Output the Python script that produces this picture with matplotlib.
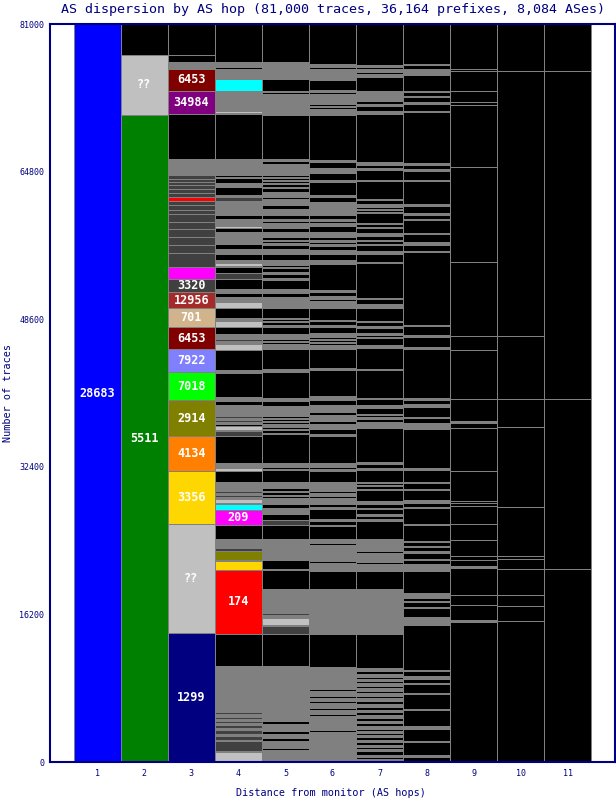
import matplotlib
matplotlib.use("Agg")
import matplotlib.pyplot as plt
import numpy as np

title = "AS dispersion by AS hop (81,000 traces, 36,164 prefixes, 8,084 ASes)"
total_traces = 81000
hops = [1, 2, 3, 4, 5, 6, 7, 8, 9, 10, 11]
yticks = [0, 16200, 32400, 48600, 64800, 81000]
xlabel = "Distance from monitor (AS hops)"
ylabel = "Number of traces"

palette = {
    "k": "#000000", "g": "#808080", "d": "#404040", "s": "#C0C0C0",
    "blue": "#0000FF", "green": "#008000", "navy": "#000080",
    "maroon": "#800000", "purple": "#800080", "red": "#FF0000",
    "magenta": "#FF00FF", "brown": "#A52A2A", "tan": "#D2B48C",
    "peri": "#8080FF", "lime": "#00FF00", "olive": "#808000",
    "orange": "#FF8000", "gold": "#FFD700", "cyan": "#00FFFF",
}

# segments listed from the top of each column downward: (colour key, traces[, AS label])
col1 = [("blue", 81000, "28683")]
col2 = [("k", 3400), ("s", 6590, "??"), ("green", 71010, "5511")]
col3 = [("k", 3400), ("k", 770), ("g", 770), ("maroon", 2410, "6453"), ("purple", 2520, "34984"),
        ("k", 4940), ("g", 1760), ("d", 440), ("d", 330), ("d", 330), ("d", 440), ("d", 440),
        ("d", 440), ("red", 440), ("d", 440), ("d", 550), ("d", 440), ("d", 880), ("d", 770),
        ("d", 880), ("d", 880), ("d", 880), ("d", 1540), ("magenta", 1320),
        ("d", 1430, "3320"), ("brown", 1760, "12956"), ("tan", 2090, "701"),
        ("maroon", 2410, "6453"), ("peri", 2520, "7922"), ("lime", 3070, "7018"),
        ("olive", 3950, "2914"), ("orange", 3840, "4134"), ("gold", 5820, "3356"),
        ("s", 11960, "??"), ("navy", 14160, "1299")]
col4 = [("k", 4170), ("g", 550), ("k", 220), ("g", 770), ("purple", 110), ("g", 220), ("cyan", 1320),
        ("g", 1650), ("d", 110), ("g", 330), ("d", 110), ("s", 220), ("g", 110), ("k", 4940),
        ("g", 1760), ("k", 220), ("g", 110), ("k", 550), ("g", 440), ("k", 880), ("s", 110),
        ("k", 110), ("d", 440), ("g", 660), ("d", 110), ("g", 770), ("k", 440), ("g", 770),
        ("s", 220), ("k", 440), ("g", 550), ("k", 110), ("d", 110), ("k", 110), ("d", 110),
        ("g", 330), ("k", 550), ("g", 550), ("k", 660), ("g", 330), ("s", 330), ("g", 110),
        ("k", 660), ("d", 660), ("k", 1100), ("g", 440), ("k", 440), ("g", 550), ("s", 660),
        ("k", 1100), ("d", 110), ("g", 220), ("s", 660), ("k", 660), ("g", 550), ("d", 220),
        ("g", 330), ("s", 660), ("k", 2300), ("g", 220), ("k", 2740), ("g", 440), ("k", 440),
        ("g", 1100), ("d", 220), ("g", 220), ("d", 220), ("g", 220), ("k", 220), ("s", 440),
        ("k", 110), ("d", 550), ("k", 2960), ("g", 550), ("s", 330), ("k", 1210), ("g", 990),
        ("d", 220), ("g", 220), ("d", 220), ("g", 220), ("s", 440), ("g", 110), ("cyan", 660),
        ("magenta", 1650, "209"), ("k", 1540), ("g", 880), ("orange", 110), ("d", 330),
        ("olive", 990), ("g", 110), ("gold", 990), ("red", 7020, "174"), ("k", 3510),
        ("g", 5050), ("d", 220), ("g", 330), ("d", 220), ("g", 220), ("d", 220), ("g", 220),
        ("d", 330), ("g", 220), ("d", 440), ("g", 220), ("d", 440), ("g", 110), ("d", 1100),
        ("g", 110), ("s", 1210)]
col5 = [("k", 4170), ("g", 440), ("k", 110), ("g", 990), ("d", 110), ("g", 220), ("k", 1320),
        ("g", 110), ("k", 220), ("g", 1650), ("d", 110), ("g", 550), ("k", 4830), ("g", 220),
        ("k", 330), ("g", 220), ("k", 110), ("g", 880), ("k", 220), ("g", 110), ("k", 220),
        ("g", 110), ("k", 220), ("g", 110), ("k", 330), ("g", 110), ("k", 440), ("g", 550),
        ("k", 220), ("g", 220), ("k", 110), ("g", 330), ("k", 440), ("g", 660), ("k", 440),
        ("g", 220), ("k", 220), ("g", 220), ("k", 110), ("g", 220), ("k", 440), ("g", 550),
        ("k", 330), ("g", 110), ("k", 220), ("g", 220), ("k", 440), ("g", 550), ("k", 660),
        ("g", 550), ("k", 220), ("g", 110), ("k", 440), ("g", 220), ("k", 440), ("g", 220),
        ("k", 990), ("g", 440), ("k", 440), ("g", 550), ("k", 110), ("g", 550), ("k", 1100),
        ("g", 110), ("k", 220), ("g", 110), ("k", 330), ("g", 220), ("k", 660), ("g", 550),
        ("k", 220), ("g", 110), ("k", 220), ("g", 550), ("k", 2200), ("g", 330), ("k", 2850),
        ("g", 330), ("k", 550), ("g", 1100), ("k", 220), ("g", 110), ("k", 220), ("g", 110),
        ("k", 220), ("g", 330), ("k", 220), ("g", 110), ("k", 330), ("g", 110), ("k", 3180),
        ("g", 440), ("k", 220), ("g", 110), ("k", 1320), ("g", 660), ("k", 330), ("g", 110),
        ("k", 330), ("g", 110), ("k", 220), ("g", 660), ("k", 440), ("g", 110), ("k", 110),
        ("g", 440), ("k", 660), ("d", 550), ("k", 1540), ("g", 2200), ("s", 110), ("k", 990),
        ("cyan", 110), ("k", 2090), ("g", 2630), ("d", 220), ("g", 330), ("s", 770), ("g", 110),
        ("d", 880), ("k", 3510), ("g", 5600), ("k", 110), ("g", 330), ("k", 330), ("g", 770),
        ("k", 330), ("g", 440), ("k", 330), ("g", 770), ("k", 220), ("g", 1430)]
col6 = [("k", 4390), ("g", 330), ("k", 220), ("g", 770), ("k", 110), ("g", 330), ("k", 1100),
        ("g", 220), ("k", 220), ("g", 1100), ("k", 220), ("g", 110), ("k", 220), ("g", 660),
        ("k", 4940), ("g", 220), ("k", 660), ("g", 550), ("k", 770), ("g", 220), ("k", 1430),
        ("g", 220), ("k", 550), ("g", 660), ("k", 110), ("g", 660), ("k", 440), ("g", 220),
        ("k", 220), ("g", 330), ("k", 660), ("g", 550), ("k", 330), ("g", 220), ("k", 220),
        ("g", 220), ("k", 440), ("g", 440), ("k", 660), ("g", 440), ("k", 2850), ("g", 220),
        ("k", 440), ("g", 330), ("k", 220), ("g", 770), ("k", 1320), ("g", 110), ("k", 440),
        ("g", 220), ("k", 660), ("g", 440), ("k", 220), ("g", 110), ("k", 220), ("g", 110),
        ("k", 220), ("g", 440), ("k", 2090), ("g", 220), ("k", 2850), ("g", 440), ("k", 550),
        ("g", 770), ("k", 220), ("g", 220), ("k", 110), ("g", 110), ("k", 110), ("g", 110),
        ("k", 330), ("g", 550), ("k", 550), ("g", 220), ("k", 2960), ("g", 440), ("k", 220),
        ("g", 220), ("k", 1210), ("g", 990), ("k", 220), ("g", 110), ("k", 110), ("g", 110),
        ("k", 220), ("g", 660), ("k", 330), ("g", 220), ("k", 1100), ("g", 220), ("k", 440),
        ("g", 110), ("k", 1430), ("g", 440), ("k", 220), ("g", 1760), ("k", 220), ("g", 880),
        ("k", 1980), ("g", 2630), ("k", 110), ("g", 1100), ("d", 110), ("g", 990), ("k", 3620),
        ("g", 2410), ("k", 220), ("g", 550), ("k", 220), ("g", 330), ("k", 220), ("g", 550),
        ("k", 220), ("g", 440), ("k", 220), ("g", 220), ("k", 110), ("g", 330), ("k", 110),
        ("g", 330), ("k", 110), ("g", 330), ("k", 220), ("g", 330), ("k", 110), ("g", 330),
        ("k", 110), ("g", 330), ("k", 110), ("g", 440), ("k", 110), ("g", 330), ("k", 110),
        ("g", 1100)]
col7 = [("k", 4500), ("g", 220), ("k", 220), ("g", 330), ("k", 220), ("g", 330), ("k", 1540),
        ("g", 220), ("k", 110), ("g", 330), ("k", 110), ("g", 330), ("k", 330), ("g", 220),
        ("k", 550), ("g", 330), ("k", 5270), ("g", 330), ("k", 330), ("g", 220), ("k", 1100),
        ("g", 110), ("k", 1980), ("g", 110), ("k", 440), ("g", 330), ("k", 220), ("g", 110),
        ("k", 220), ("g", 110), ("k", 1100), ("g", 110), ("k", 330), ("g", 110), ("k", 550),
        ("g", 330), ("k", 440), ("g", 110), ("k", 330), ("g", 110), ("k", 660), ("g", 330),
        ("k", 880), ("g", 110), ("k", 3840), ("g", 110), ("k", 550), ("g", 440), ("k", 1430),
        ("g", 110), ("k", 440), ("g", 220), ("k", 550), ("g", 220), ("k", 220), ("g", 110),
        ("k", 770), ("g", 330), ("k", 2300), ("g", 110), ("k", 3070), ("g", 110), ("k", 660),
        ("g", 330), ("k", 660), ("g", 110), ("k", 220), ("g", 220), ("k", 330), ("g", 660),
        ("k", 3730), ("g", 220), ("k", 440), ("g", 220), ("k", 1320), ("g", 110), ("k", 220),
        ("g", 110), ("k", 330), ("g", 110), ("k", 1100), ("g", 330), ("k", 440), ("g", 110),
        ("k", 550), ("g", 220), ("k", 330), ("g", 220), ("k", 1980), ("g", 440), ("k", 110),
        ("g", 770), ("k", 220), ("g", 440), ("k", 110), ("g", 440), ("k", 220), ("g", 770),
        ("k", 1980), ("g", 1980), ("k", 110), ("g", 440), ("k", 110), ("g", 1210), ("k", 110),
        ("g", 990), ("k", 3730), ("g", 330), ("k", 330), ("g", 330), ("k", 220), ("g", 220),
        ("k", 220), ("g", 330), ("k", 220), ("g", 330), ("k", 220), ("g", 330), ("k", 220),
        ("g", 330), ("k", 330), ("g", 330), ("k", 330), ("g", 220), ("k", 330), ("g", 330),
        ("k", 330), ("g", 220), ("k", 330), ("g", 330), ("k", 220), ("g", 220), ("k", 220),
        ("g", 220), ("k", 330), ("g", 220), ("k", 330), ("g", 220), ("k", 220), ("g", 220),
        ("k", 440), ("g", 220), ("k", 220), ("g", 440)]
col8 = [("k", 4390), ("g", 110), ("k", 440), ("g", 220), ("k", 110), ("g", 330), ("k", 1760),
        ("g", 110), ("k", 440), ("g", 110), ("k", 550), ("g", 220), ("k", 770), ("g", 110),
        ("k", 5600), ("g", 220), ("k", 440), ("g", 220), ("k", 990), ("g", 110), ("k", 2520),
        ("g", 220), ("k", 770), ("g", 220), ("k", 440), ("g", 110), ("k", 1430), ("g", 110),
        ("k", 880), ("g", 330), ("k", 660), ("g", 110), ("k", 8010), ("g", 110), ("k", 990),
        ("g", 220), ("k", 1100), ("g", 220), ("k", 5380), ("g", 220), ("k", 440), ("g", 330),
        ("k", 1100), ("g", 110), ("k", 550), ("g", 660), ("k", 4280), ("g", 220), ("k", 1320),
        ("g", 110), ("k", 660), ("g", 110), ("k", 1100), ("g", 330), ("k", 440), ("g", 110),
        ("k", 1760), ("g", 110), ("k", 1650), ("g", 110), ("k", 440), ("g", 110), ("k", 440),
        ("g", 220), ("k", 660), ("g", 110), ("k", 440), ("g", 770), ("k", 2410), ("g", 550),
        ("k", 330), ("g", 110), ("k", 550), ("g", 110), ("k", 990), ("g", 880), ("k", 4940),
        ("g", 110), ("k", 550), ("g", 330), ("k", 440), ("g", 110), ("k", 990), ("g", 110),
        ("k", 1650), ("g", 110), ("k", 1760), ("g", 330), ("k", 1320), ("g", 110), ("k", 1430),
        ("g", 220), ("k", 660)]
col9 = [("k", 4940), ("k", 220), ("k", 2200), ("k", 1210), ("k", 330), ("k", 6800), ("k", 10430),
        ("k", 8120), ("k", 1540), ("k", 5380), ("k", 2410), ("g", 220), ("k", 550), ("k", 4720),
        ("k", 3290), ("k", 220), ("k", 330), ("k", 1980), ("k", 1760), ("k", 1760), ("k", 440),
        ("k", 660), ("g", 220), ("k", 2960), ("k", 1100), ("k", 1650), ("g", 220), ("k", 15370)]
col10 = [("k", 5160), ("k", 29090), ("k", 6910), ("k", 3070), ("k", 8780), ("k", 5380),
         ("k", 330), ("k", 1100), ("k", 2850), ("k", 1210), ("k", 1650), ("k", 15480)]
col11 = [("k", 5160), ("k", 36000), ("k", 18660), ("k", 21180)]

columns = [col1, col2, col3, col4, col5, col6, col7, col8, col9, col10, col11]

NAVY = "#000080"
MONO = "DejaVu Sans Mono"

fig = plt.figure(figsize=(6.16, 8.0), dpi=100)
ax = fig.add_axes([50 / 616, 38 / 800, 565 / 616, 738 / 800])
ax.set_facecolor("white")

for hop, segs in zip(hops, columns):
    heights = np.array([s[1] for s in segs], dtype=float)
    tops = total_traces - np.concatenate([[0], np.cumsum(heights)[:-1]])
    bottoms = tops - heights
    colors = [palette[s[0]] for s in segs]
    ax.bar([hop] * len(segs), heights, bottom=bottoms, width=1.0, color=colors,
           edgecolor="#808080", linewidth=0.72, antialiased=False, align="center")
    for s, b, h in zip(segs, bottoms, heights):
        if len(s) > 2:
            ax.text(hop, b + h / 2, s[2], ha="center", va="center", color="white",
                    fontsize=8.5, fontweight="bold", family=MONO)

ax.set_xlim(0, 12)
ax.set_ylim(0, total_traces)
ax.set_xticks(hops)
ax.set_xticklabels([str(h) for h in hops])
ax.set_yticks(yticks)
ax.set_yticklabels([str(v) for v in yticks])
ax.tick_params(length=0, labelsize=6, labelcolor=NAVY, pad=4)
for lab in ax.get_xticklabels() + ax.get_yticklabels():
    lab.set_family(MONO)
ax.tick_params(axis="x", pad=5)
for sp in ax.spines.values():
    sp.set_color(NAVY)
    sp.set_linewidth(1.5)

fig.text(331 / 616, 1 - 793 / 800, xlabel, ha="center", va="center", family=MONO,
         fontsize=7.3, color=NAVY)
fig.text(8 / 616, 1 - 393 / 800, ylabel, ha="center", va="center", rotation=90,
         family=MONO, fontsize=7.3, color=NAVY)
fig.text(333 / 616, 1 - 10 / 800, title, ha="center", va="center", family=MONO,
         fontsize=9.6, color=NAVY)

fig.savefig("out.png", dpi=100)
